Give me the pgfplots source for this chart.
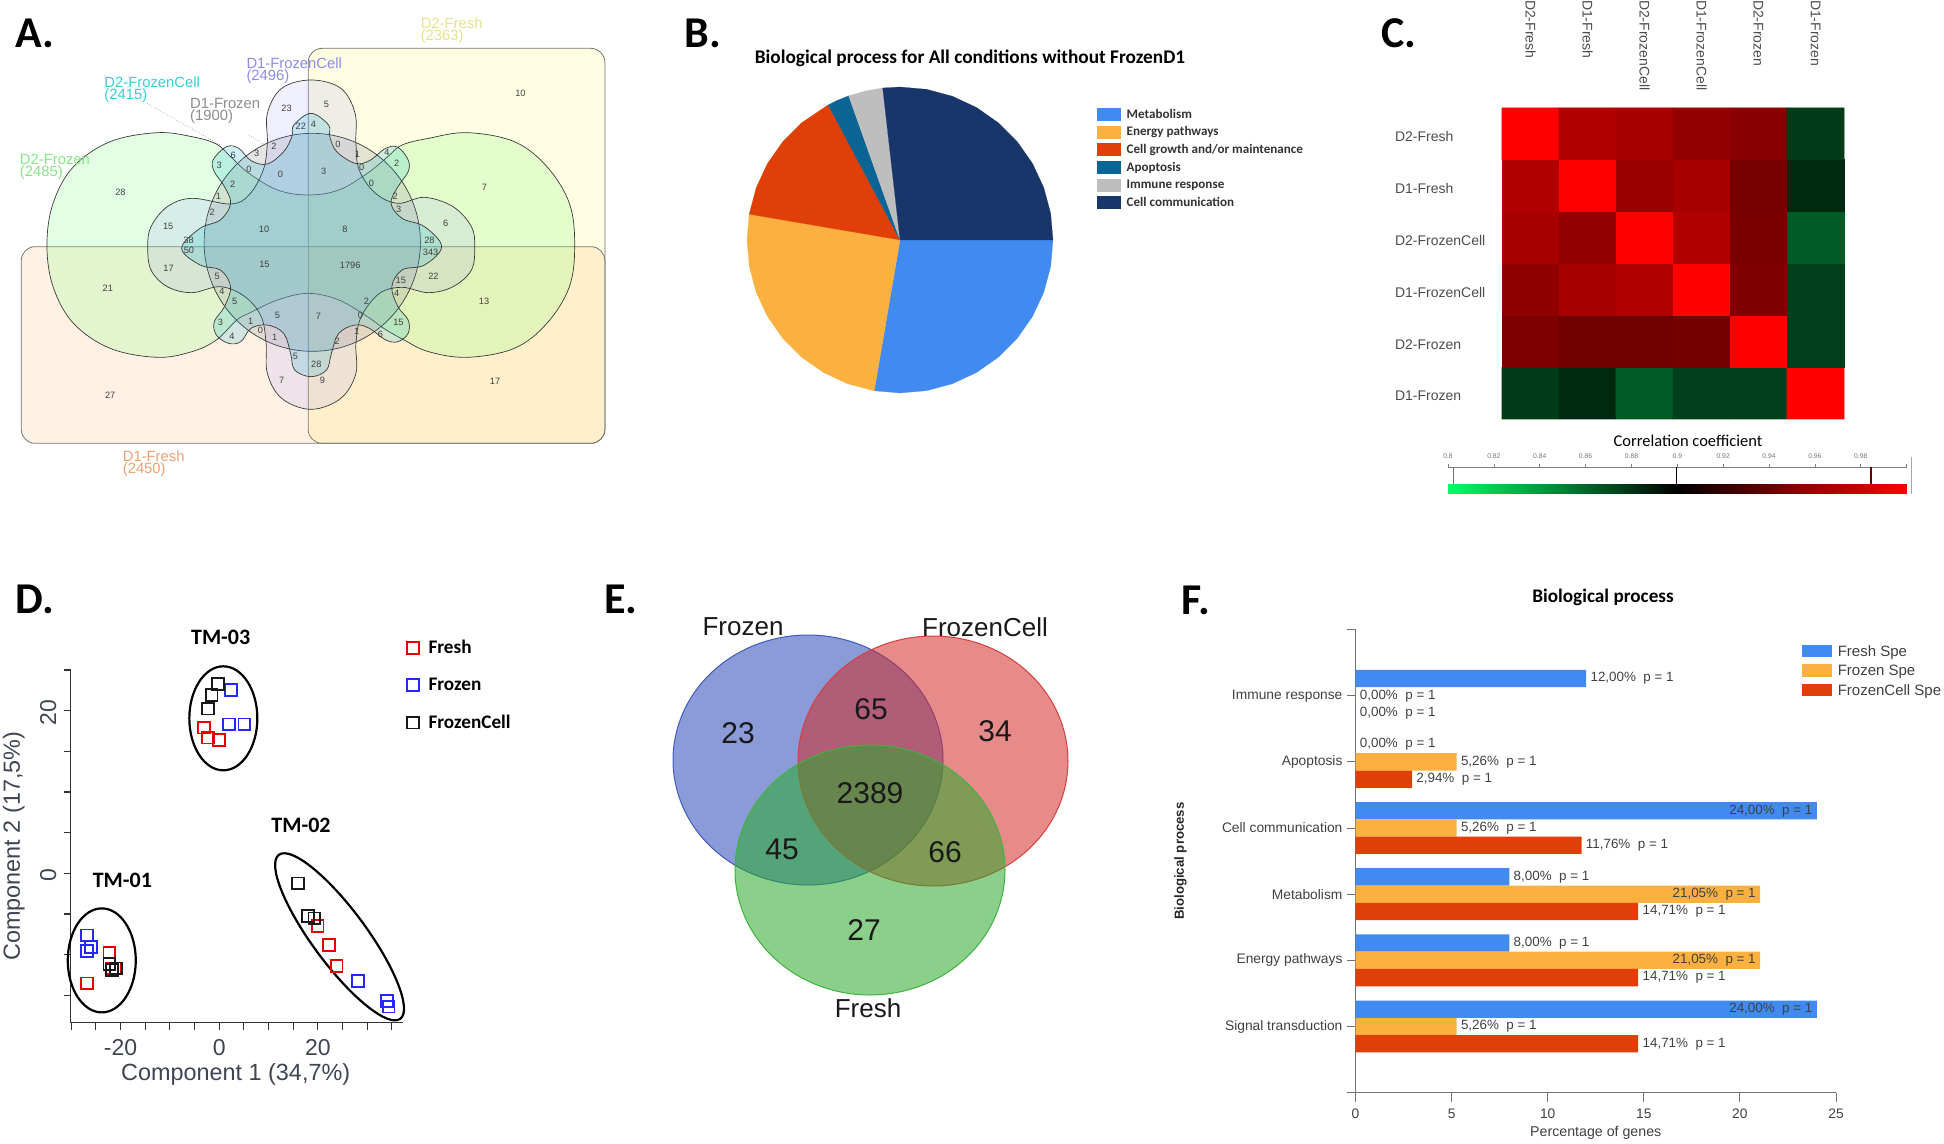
\documentclass[border=0pt]{standalone}
\usepackage{fontspec}
\setmainfont{Liberation Sans}
\newfontfamily\carlito{Carlito}
\usepackage{pgfplots}
\usepackage{pgfplotstable}
\pgfplotsset{compat=1.18}
\usepgfplotslibrary{polar}
\newcommand\fs[1]{\fontsize{#1}{#1}\selectfont}

\definecolor{cBlue}{HTML}{418AEF}
\definecolor{cOrange}{HTML}{FBB03F}
\definecolor{cRed}{HTML}{E04008}
\definecolor{cTeal}{HTML}{0A6494}
\definecolor{cGrey}{HTML}{BEBEBE}
\definecolor{cNavy}{HTML}{19366A}
\definecolor{edge}{HTML}{3A3A3A}
\definecolor{pcaText}{HTML}{3F4453}
\definecolor{vennB}{RGB}{42,73,184}
\definecolor{vennR}{RGB}{210,42,42}
\definecolor{vennG}{RGB}{42,170,42}

\pgfplotsset{
  panel/.style={scale only axis, clip=false, anchor=north west},
  colormap={gr}{rgb255(0cm)=(0,255,102); rgb255(1cm)=(0,0,0); rgb255(2cm)=(255,0,0)},
  venn/.style={smooth cycle, tension=0.63, draw=edge, line width=0.35pt, fill=#1},
  sect/.style={fill=#1, draw=#1, line width=0.1pt},
}

% heat map, one row per sample, bottom row first
\pgfplotstableread[row sep=\\]{
x y v\\
0 0 .877\\ 1 0 .884\\ 2 0 .864\\ 3 0 .875\\ 4 0 .875\\ 5 0 1\\
0 1 .950\\ 1 1 .944\\ 2 1 .944\\ 3 1 .946\\ 4 1 1\\ 5 1 .875\\
0 2 .956\\ 1 2 .966\\ 2 2 .969\\ 3 2 1\\ 4 2 .950\\ 5 2 .875\\
0 3 .966\\ 1 3 .958\\ 2 3 1\\ 3 3 .969\\ 4 3 .948\\ 5 3 .864\\
0 4 .969\\ 1 4 1\\ 2 4 .960\\ 3 4 .966\\ 4 4 .947\\ 5 4 .884\\
0 5 1\\ 1 5 .970\\ 2 5 .966\\ 3 5 .958\\ 4 5 .954\\ 5 5 .877\\
}\heat

\begin{document}
\begin{tikzpicture}
\path[use as bounding box] (0pt,0pt) rectangle (972pt,-572pt);

% ---- A: six set venn, coordinates as read from the crop
\begin{axis}[panel, hide axis, at={(0pt,0pt)}, width=320pt, height=240pt,
  xmin=0, xmax=1568, ymin=0, ymax=1440, y dir=reverse]
\addplot[draw=edge!70, line width=0.4pt, fill=yellow!45, fill opacity=0.25, rounded corners=7pt]
  coordinates {(1100,145)(1482,145)(1482,1330)(755,1330)(755,145)} --cycle;
\addplot[draw=edge!70, line width=0.4pt, fill=orange!80, fill opacity=0.13, rounded corners=7pt]
  coordinates {(700,740)(1482,740)(1482,1330)(52,1330)(52,740)} --cycle;
\addplot[venn=green!55, fill opacity=0.2, tension=0.6] coordinates {
  (755,585)(680,570)(610,520)(565,470)(530,432)(470,410)(385,398)(270,425)(180,500)(130,610)
  (115,735)(130,860)(180,970)(270,1045)(385,1072)(470,1055)(530,1020)(580,960)(610,940)(680,900)
  (755,880)(830,900)(900,950)(940,985)(990,1020)(1050,1055)(1145,1072)(1260,1045)(1340,970)(1395,860)
  (1408,735)(1395,610)(1340,500)(1260,425)(1145,398)(1050,415)(985,435)(950,470)(900,520)(830,570)};
\addplot[venn=gray!70, fill opacity=0.3] coordinates {
  (765,400)(897.5,443.5)(994.5,563.5)(1030,727)(994.5,890.5)(897.5,1010.5)
  (765,1054)(632.5,1010.5)(535.5,890.5)(500,727)(535.5,563.5)(632.5,443.5)};
\addplot[venn=blue!50, fill opacity=0.13, tension=0.6] coordinates {
  (762,240)(835,265)(870,340)(872,430)(880,510)(920,580)(975,610)(1040,592)(1110,620)(1155,680)
  (1163,740)(1155,810)(1110,860)(1050,878)(985,862)(930,880)(885,950)(872,1030)(872,1120)(835,1195)
  (762,1228)(690,1195)(655,1120)(652,1030)(640,950)(600,890)(540,860)(470,878)(410,860)(370,810)
  (362,740)(370,680)(410,620)(470,595)(565,612)(610,585)(645,510)(655,430)(655,340)(690,265)};
\addplot[venn=cyan!80!green, fill opacity=0.18, tension=0.6] coordinates {
  (762,340)(805,375)(808,410)(825,455)(870,490)(905,482)(945,445)(975,442)(1000,480)(1000,515)
  (975,560)(958,610)(985,655)(1040,680)(1082,740)(1040,795)(985,810)(960,860)(975,920)(1000,960)
  (1000,1000)(975,1025)(945,1020)(905,985)(870,975)(830,1000)(812,1060)(800,1110)(762,1130)(722,1110)
  (712,1060)(695,1000)(655,975)(615,985)(590,1025)(560,1030)(530,1005)(525,965)(550,920)(565,860)
  (540,810)(490,795)(445,745)(490,685)(540,660)(565,610)(550,560)(525,515)(522,480)(555,440)
  (585,445)(615,482)(655,492)(695,455)(715,410)(720,375)};
\addplot[gray, densely dotted, line width=0.3pt] coordinates {(360,310)(540,435)};
\addplot[gray, densely dotted, line width=0.3pt] coordinates {(610,405)(650,435)};
\foreach \px/\py/\n in {
  1275/280/10,1187/563/7,1092/670/6,1186/903/13,1213/1145/17,1062/830/22,1052/720/28,1055/758/343,
  982/840/15,972/880/4,976/967/15,898/905/2,883/945/0,874/993/1,932/1003/6,826/1025/2,780/950/7,
  858/796/1796,845/688/8,647/688/10,648/793/15,775/1093/28,724/1070/5,690/1142/7,790/1142/9,680/945/5,
  673/1012/1,638/992/0,614/964/1,568/1008/4,540/967/3,575/903/5,544/873/4,532/830/5,413/805/17,
  463/752/50,462/722/38,412/680/15,520/637/2,535/588/1,570/553/2,537/497/3,571/466/6,629/460/3,
  610/507/0,687/522/0,671/440/2,702/325/23,737/380/22,768/374/4,800/314/5,828/432/0,793/515/3,
  876/462/1,886/503/0,910/550/0,948/458/4,972/490/2,968/588/2,977/627/3,264/864/21,270/1187/27,295/578/28
}{\edef\tmp{\noexpand\node[font=\noexpand\fs{4.6}, text=black!75, inner sep=0pt] at (axis cs:\px,\py) {\n};}\tmp}
\end{axis}

% ---- B: pie, one closed polygon per class in a polar axis
\begin{polaraxis}[panel, hide axis, at={(373.5pt,-43.5pt)}, width=153pt, height=153pt,
  xmin=-360, xmax=0, ymin=0, ymax=1,
  legend cell align=left,
  legend style={at={(1.144,0.932)}, anchor=north west, draw=none, fill=none, inner sep=0pt,
    font=\carlito\bfseries\fs{6.55}, text=black!80, row sep=2.25pt,
    nodes={inner sep=0pt, anchor=base west}},
  legend image code/.code={\fill[#1] (0pt,-1.0pt) rectangle (11.5pt,5pt);\path (14.5pt,0pt);}]
\addplot[sect=cBlue] coordinates {(0,0)(0,1)(-10,1)(-20,1)(-30,1)(-40,1)(-50,1)(-60,1)(-70,1)(-80,1)(-90,1)(-99.7,1)} --cycle;
\addplot[sect=cOrange] coordinates {(0,0)(-99.7,1)(-110,1)(-120,1)(-130,1)(-140,1)(-150,1)(-160,1)(-170,1)(-180,1)(-189.7,1)} --cycle;
\addplot[sect=cRed] coordinates {(0,0)(-189.7,1)(-200,1)(-210,1)(-220,1)(-230,1)(-242,1)} --cycle;
\addplot[sect=cTeal] coordinates {(0,0)(-242,1)(-246,1)(-250.4,1)} --cycle;
\addplot[sect=cGrey] coordinates {(0,0)(-250.4,1)(-257,1)(-263.5,1)} --cycle;
\addplot[sect=cNavy] coordinates {(0,0)(-263.5,1)(-270,1)(-280,1)(-290,1)(-300,1)(-310,1)(-320,1)(-330,1)(-340,1)(-350,1)(-360,1)} --cycle;
\legend{Metabolism,Energy pathways,Cell growth and/or maintenance,Apoptosis,Immune response,Cell communication}
\end{polaraxis}

% ---- C: correlation matrix
\begin{axis}[panel, at={(751pt,-54pt)}, width=171pt, height=155.5pt,
  xmin=-0.5, xmax=5.5, ymin=-0.5, ymax=5.5,
  axis line style={draw=none}, major tick length=0pt,
  xtick={0,...,5}, ytick={0,...,5}, xticklabel pos=upper,
  xticklabels={D2-Fresh,D1-Fresh,D2-FrozenCell,D1-FrozenCell,D2-Frozen,D1-Frozen},
  yticklabels={D1-Frozen,D2-Frozen,D1-FrozenCell,D2-FrozenCell,D1-Fresh,D2-Fresh},
  xticklabel style={rotate=-90, anchor=west, xshift=-57.5pt, font=\fs{7}, text=black!70},
  yticklabel style={anchor=west, xshift=-57pt, yshift=-1.5pt, font=\fs{7}, text=black!70},
  colormap name=gr, point meta min=0.8, point meta max=1]
\addplot[matrix plot*, mesh/cols=6, point meta=explicit] table[x=x, y=y, meta=v] {\heat};
\end{axis}

% colour scale of C
\begin{axis}[panel, at={(724pt,-233.5pt)}, width=229.3pt, height=13pt,
  xmin=0.8, xmax=1, ymin=0, ymax=1,
  axis x line=top, axis y line=none, axis line style={-, draw=gray, line width=0.5pt},
  xtick={0.8,0.82,...,0.99}, tick style={draw=gray, line width=0.3pt}, major tick length=1.5pt, tick align=outside,
  xticklabels={0.8,0.82,0.84,0.86,0.88,0.9,0.92,0.94,0.96,0.98},
  xticklabel style={font=\fs{3.4}, text=black!55, yshift=-1pt},
  colormap name=gr, point meta min=0.8, point meta max=1]
\addplot[surf, shader=interp, mesh/rows=2, point meta=x] coordinates {
  (0.8,0)(0.9,0)(1,0)
  (0.8,0.35)(0.9,0.35)(1,0.35)};
\addplot[gray!90!black, line width=0.7pt] coordinates {(0.8024,0.35)(0.8024,1)};
\addplot[black, line width=0.7pt] coordinates {(0.8997,0.35)(0.8997,1)};
\addplot[red!40!black, line width=0.7pt] coordinates {(0.9845,0.35)(0.9845,1)};
\addplot[gray!70, line width=0.4pt] coordinates {(1.002,-0.05)(1.002,1.4)};
\end{axis}

% ---- D: PCA
\begin{axis}[panel, at={(35.35pt,-335pt)}, width=166pt, height=176.35pt,
  xmin=-30.1, xmax=37.2, ymin=-18.36, ymax=25,
  axis x line=bottom, axis y line=left,
  axis line style={-, line width=0.75pt, draw=black!80},
  tick style={line width=0.6pt, draw=black!80}, tick align=outside,
  major tick length=3.6pt, minor tick length=3.6pt,
  xtick={-20,0,20}, xticklabels={-20,0,20},
  ytick={0,20}, yticklabels={0,20},
  minor xtick={-30,-25,-15,-10,-5,5,10,15,25,30,35},
  minor ytick={-15,-10,-5,5,10,15,25},
  tick label style={font=\fs{11.5}, text=pcaText},
  xticklabel style={yshift=-1pt},
  yticklabel style={rotate=90, anchor=south, yshift=0pt, xshift=-1pt},
  xlabel={Component 1 (34,7\%)}, ylabel={Component 2 (17,5\%)},
  label style={font=\fs{11.7}, text=pcaText},
  xlabel style={at={(axis description cs:0.497,-0.1455)}, anchor=center},
  ylabel style={at={(axis description cs:-0.171,0.501)}, anchor=center},
  legend cell align=left,
  legend style={at={(1.005,1.085)}, anchor=north west, draw=none, fill=none, inner sep=0pt,
    font=\carlito\bfseries\fs{9.6}, row sep=10.7pt, nodes={inner sep=0pt, anchor=base west}},
  legend image code/.code={\path (-4pt,0pt);\draw[#1,mark size=2.95pt] plot coordinates {(0pt,3pt)};\path (7.5pt,0pt);}]
\addplot[only marks, mark=square, mark size=2.95pt, draw=red!90!black, mark options={line width=0.9pt}] coordinates {
  (-3.08,17.91)(-2.31,16.68)(0,16.39)(19.93,-6.48)(22.31,-8.81)(23.78,-11.39)
  (-22.24,-9.75)(-26.85,-13.52)(-21.75,-11.68)(-21.05,-11.68)};
\addplot[only marks, mark=square, mark size=2.95pt, draw=blue!85, mark options={line width=0.9pt}] coordinates {
  (2.38,22.54)(2.03,18.32)(5.10,18.32)(-26.78,-7.62)(-25.94,-9.02)(-26.85,-9.51)
  (28.11,-13.24)(33.99,-15.66)(34.34,-16.39)};
\addplot[only marks, mark=square, mark size=2.95pt, draw=black!90, mark options={line width=0.9pt}] coordinates {
  (-0.28,23.28)(-1.54,21.89)(-2.31,20.25)(-22.24,-11.15)(-21.75,-11.89)(-20.91,-11.68)
  (16.01,-1.23)(17.97,-5.25)(19.30,-5.53)};
\draw[line width=1.1pt] (axis cs:0.84,19.06) ellipse [x radius=17pt, y radius=26pt];
\draw[line width=1.1pt] (axis cs:-23.8,-10.7) ellipse [x radius=17pt, y radius=26pt];
\draw[line width=1.1pt, rotate around={-53.5:(axis cs:24.4,-7.8)}] (axis cs:24.4,-7.8) ellipse [x radius=51pt, y radius=13.5pt];
\legend{Fresh,Frozen,FrozenCell}
\end{axis}

% ---- E: three set venn
\begin{axis}[panel, hide axis, at={(330pt,-310pt)}, width=220pt, height=195pt,
  xmin=660, xmax=1100, ymin=620, ymax=1010, y dir=reverse]
\addplot[venn=vennB, draw=vennB!90, fill opacity=0.55, line width=0.5pt] coordinates {
  (808,635)(875.5,651.75)(924.9,697.5)(943,760)(924.9,822.5)(875.5,868.25)
  (808,885)(740.5,868.25)(691.1,822.5)(673,760)(691.1,697.5)(740.5,651.75)};
\addplot[venn=vennR, draw=vennR!90, fill opacity=0.55, line width=0.5pt] coordinates {
  (933,636)(1000.5,652.75)(1049.9,698.5)(1068,761)(1049.9,823.5)(1000.5,869.25)
  (933,886)(865.5,869.25)(816.1,823.5)(798,761)(816.1,698.5)(865.5,652.75)};
\addplot[venn=vennG, draw=vennG!90, fill opacity=0.55, line width=0.5pt] coordinates {
  (870,745)(937.5,761.75)(986.9,807.5)(1005,870)(986.9,932.5)(937.5,978.25)
  (870,995)(802.5,978.25)(753.1,932.5)(735,870)(753.1,807.5)(802.5,761.75)};
\end{axis}

% ---- F: bars; labels that sit inside the long bars come from the last two plots
\begin{axis}[panel, at={(677.75pt,-314.8pt)}, width=240.25pt, height=231.5pt,
  /pgf/number format/assume math mode=true,
  xmin=0, xmax=25, ymin=-1, ymax=6,
  axis x line=bottom, axis y line=left,
  axis line style={-, draw=black!55, line width=0.6pt},
  tick style={draw=black!55, line width=0.5pt}, tick align=outside,
  major tick length=4.5pt,
  xtick={0,5,...,25},
  ytick={-1,0,...,6},
  yticklabels={,Signal transduction,Energy pathways,Metabolism,Cell communication,Apoptosis,Immune response,},
  tick label style={font=\fs{6.9}, text=black!75},
  yticklabel style={xshift=1.5pt},
  xlabel={Percentage of genes}, ylabel={\bfseries Biological process},
  xlabel style={at={(axis description cs:0.50,-0.088)}, anchor=center, font=\fs{7.1}, text=black!75},
  ylabel style={at={(axis description cs:-0.3645,0.50)}, anchor=center, font=\fs{6.6}, text=black!85},
  xbar, bar width=8.65pt,
  point meta=explicit symbolic,
  nodes near coords,
  nodes near coords align={anchor=west},
  every node near coord/.append style={font=\fs{6.7}, text=black!75, inner xsep=2pt, inner ysep=0pt},
  legend cell align=left,
  legend style={at={(0.928,0.968)}, anchor=north west, draw=none, fill=none, inner sep=0pt,
    font=\fs{7.5}, text=black!75, row sep=2.5pt, nodes={inner sep=0pt, anchor=base west}},
  legend image code/.code={\fill[#1] (0pt,-0.6pt) rectangle (15pt,5.7pt);\path (18pt,0pt);}]
\addplot[fill=cBlue, draw=none, bar shift=8.65pt] coordinates {
  (12,5)[12,00\%\ \ p = 1] (0,4)[0,00\%\ \ p = 1] (24,3)[] (8,2)[8,00\%\ \ p = 1] (8,1)[8,00\%\ \ p = 1] (24,0)[]};
\addplot[fill=cOrange, draw=none, bar shift=0pt] coordinates {
  (0,5)[0,00\%\ \ p = 1] (5.26,4)[5,26\%\ \ p = 1] (5.26,3)[5,26\%\ \ p = 1] (21.05,2)[] (21.05,1)[] (5.26,0)[5,26\%\ \ p = 1]};
\addplot[fill=cRed, draw=none, bar shift=-8.65pt] coordinates {
  (0,5)[0,00\%\ \ p = 1] (2.94,4)[2,94\%\ \ p = 1] (11.76,3)[11,76\%\ \ p = 1] (14.71,2)[14,71\%\ \ p = 1] (14.71,1)[14,71\%\ \ p = 1] (14.71,0)[14,71\%\ \ p = 1]};
\addplot[draw=none, fill=none, forget plot, bar shift=8.65pt, nodes near coords align={anchor=east}] coordinates {
  (24,3)[24,00\%\ \ p = 1] (24,0)[24,00\%\ \ p = 1]};
\addplot[draw=none, fill=none, forget plot, bar shift=0pt, nodes near coords align={anchor=east}] coordinates {
  (21.05,2)[21,05\%\ \ p = 1] (21.05,1)[21,05\%\ \ p = 1]};
\legend{Fresh Spe,Frozen Spe,FrozenCell Spe}
\end{axis}

% ---- texts, in pixels of the reference
\begin{scope}[x=0.5pt, y=-0.5pt, every node/.style={inner sep=0pt}]
\foreach \px/\py/\t in {15/48/A.,684/48/B.,1381/48/C.,15/613/D.,604/613/E.,1181/614/F.}
  \node[anchor=base west, font=\carlito\bfseries\fs{22}] at (\px,\py) {\t};
% set names of A
\def\setlab#1#2#3#4#5{\node[anchor=west, font=\fs{7.4}, text=#5] at (#1/2.45,#2/3) {#3};
  \node[anchor=west, font=\fs{7.4}, text=#5] at (#1/2.45,#2/3+13.3) {(#4)};}
\definecolor{lYel}{HTML}{E6E28C}
\definecolor{lBlu}{HTML}{8A8AE8}
\definecolor{lCya}{HTML}{35CFD6}
\definecolor{lGre}{HTML}{85E685}
\definecolor{lOra}{HTML}{F0A070}
\setlab{1030}{70}{D2-Fresh}{2363}{lYel}
\setlab{603}{190}{D1-FrozenCell}{2496}{lBlu}
\setlab{255}{248}{D2-FrozenCell}{2415}{lCya}
\setlab{465}{310}{D1-Frozen}{1900}{black!45}
\setlab{48}{478}{D2-Frozen}{2485}{lGre}
\setlab{300}{1368}{D1-Fresh}{2450}{lOra}
\node[font=\carlito\bfseries\fs{9.65}] at (970,58) {Biological process for All conditions without FrozenD1};
\node[font=\carlito\fs{8.25}] at (1688,441) {Correlation coefficient};
\node[font=\carlito\bfseries\fs{11}] at (220.7,637.7) {TM-03};
\node[font=\carlito\bfseries\fs{11}] at (301,825) {TM-02};
\node[font=\carlito\bfseries\fs{11}] at (122.4,880.7) {TM-01};
\foreach \px/\py/\t in {738/733/23,871/709/65,995/731/34,782/849/45,870/793/2389,945/852/66,864/930/27}
  \node[font=\fs{15}, text=black!90] at (\px,\py) {\t};
\foreach \px/\py/\t in {743/627/Frozen,985/627/FrozenCell,868/1008/Fresh}
  \node[font=\fs{13}, text=black!90] at (\px,\py) {\t};
\node[font=\carlito\bfseries\fs{9.6}] at (1603,597) {Biological process};
\end{scope}
\end{tikzpicture}
\end{document}
